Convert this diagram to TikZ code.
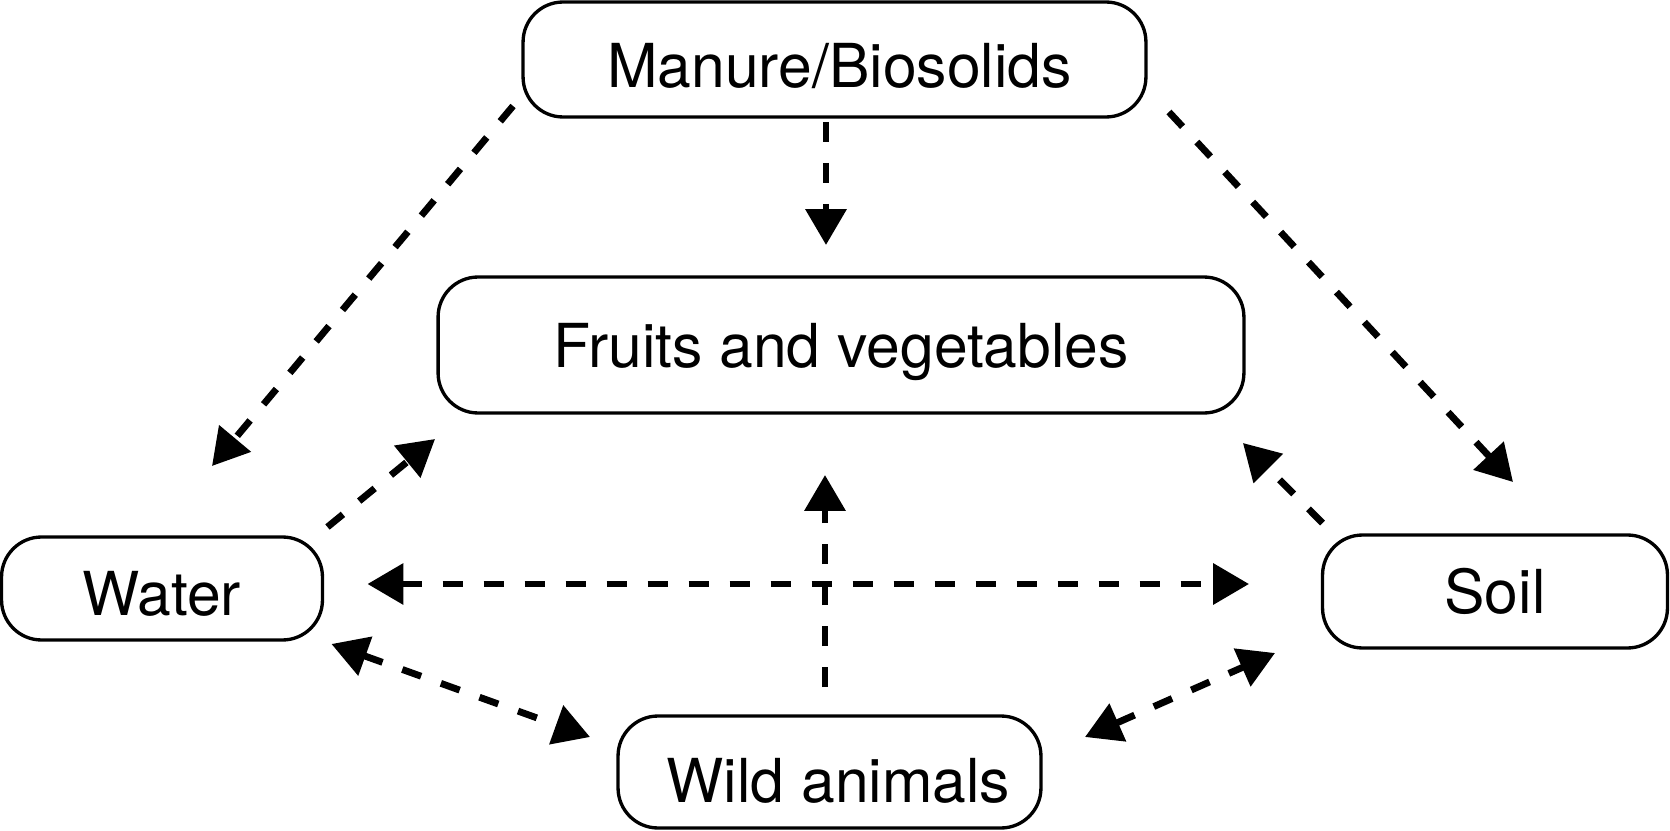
\documentclass[tikz,border=0pt]{standalone}
\usepackage{fontspec}
\setmainfont{TeX Gyre Heros}
\usetikzlibrary{arrows.meta}

\begin{document}
\begin{tikzpicture}[x=0.02cm,y=-0.02cm,
        >={Triangle[length=0.72cm,width=0.8cm]},
        srcbox/.style={draw,line width=1.9pt,rounded corners=0.8cm,outer sep=0pt,inner sep=0pt,
            font=\fontsize{34.5}{40}\selectfont,text height=0.89cm,text depth=0pt},
        flow/.style={line width=3.9pt,dash pattern=on 0.4cm off 0.42cm,->},
        twoway/.style={flow,<->}]
        \useasboundingbox (0,0) rectangle (1670,831);
        \node[srcbox,minimum width=12.46cm,minimum height=2.3cm,text height=1.13cm] (manure) at (834.5,59.5) {\hspace{0.2cm}Manure/Biosolids};
        \node[srcbox,minimum width=16.12cm,minimum height=2.72cm] (fruits) at (841,345) {Fruits and vegetables};
        \node[srcbox,minimum width=6.42cm,minimum height=2.06cm,text height=1.09cm] (water) at (162,588.5) {Water\hspace{0.44cm}};
        \node[srcbox,minimum width=6.9cm,minimum height=2.26cm] (soil) at (1495,591.5) {Soil};
        \node[srcbox,minimum width=8.46cm,minimum height=2.24cm,text height=1.21cm] (wild) at (829.5,772) {\hspace{0.36cm}Wild animals};
        \draw[flow] ([shift={(-10,-11)}]manure.south west) -- ([shift={(50,-71)}]water.north);
        \draw[flow] ([shift={(-8.5,5)}]manure.south) -- ([shift={(-15,-32)}]fruits.north);
        \draw[flow] ([shift={(23,-5)}]manure.south east) -- ([shift={(18,-53)}]soil.north);
        \draw[flow] ([shift={(5,-10)}]water.north east) -- ([shift={(-3,26)}]fruits.south west);
        \draw[twoway] ([shift={(45,-4.5)}]water.east) -- ([shift={(-73.5,-7.5)}]soil.west);
        \draw[twoway] ([shift={(9,4)}]water.south east) -- ([shift={(-28,21)}]wild.north west);
        \draw[flow] ([shift={(-4.5,-29)}]wild.north) -- ([shift={(-16,62)}]fruits.south);
        \draw[flow] ([shift={(0,-12)}]soil.north west) -- ([shift={(-1,30)}]fruits.south east);
        \draw[twoway] ([shift={(44,21)}]wild.north east) -- ([shift={(-47.5,5)}]soil.south west);
\end{tikzpicture}
\end{document}
